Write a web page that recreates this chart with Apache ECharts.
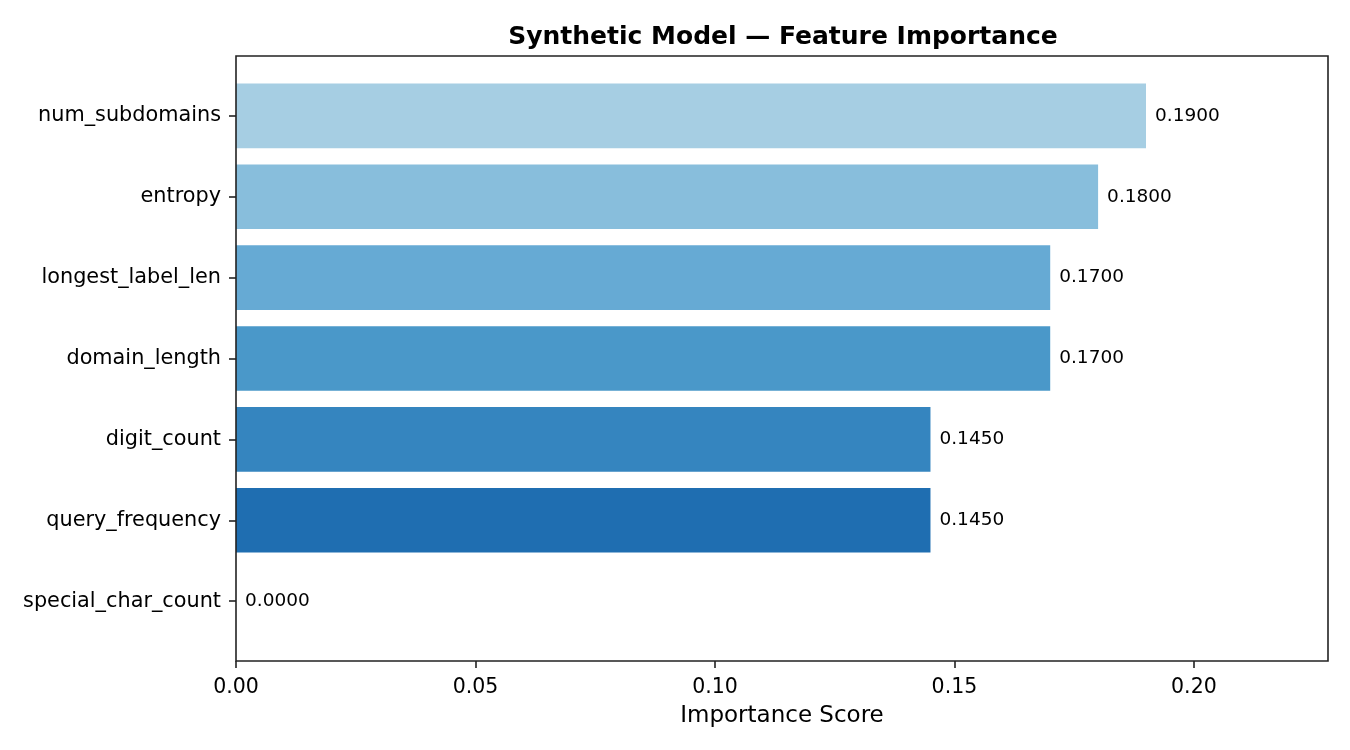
<!DOCTYPE html>
<html>
<head>
<meta charset="utf-8">
<script src="https://cdn.jsdelivr.net/npm/echarts@6/dist/echarts.min.js"></script>
<style>
  html, body { margin: 0; padding: 0; background: #ffffff; }
  #chart { width: 1350px; height: 750px; }
</style>
</head>
<body>
<div id="chart"></div>
<script>
// data, top to bottom
const features = ['num_subdomains', 'entropy', 'longest_label_len', 'domain_length', 'digit_count', 'query_frequency', 'special_char_count'];
const importance = [0.19, 0.18, 0.17, 0.17, 0.145, 0.145, 0.0];
const barColors = ['#a6cee3', '#88bedc', '#66aad4', '#4a98c9', '#3585bf', '#1f6eb1', '#0c56a0'];
const xTicks = [0, 0.05, 0.10, 0.15, 0.20];

// plot frame (matplotlib axes box)
const frame = { left: 236, top: 56, right: 1328, bottom: 661 };
// category bands are a bit inside the frame (matplotlib margins)
const band = (frame.bottom - frame.top) / (features.length + 0.48);
const gridTop = frame.top + band * 0.24;
const gridBottom = frame.bottom - band * 0.24;
const font = 'DejaVu Sans';

const chart = echarts.init(document.getElementById('chart'));
chart.setOption({
  animation: false,
  backgroundColor: '#ffffff',
  title: {
    text: 'Synthetic Model — Feature Importance',
    left: (frame.left + frame.right) / 2 - 4,
    textAlign: 'center',
    top: 20,
    textStyle: { fontFamily: font, fontWeight: 'bold', fontSize: 25, color: '#000' }
  },
  grid: {
    left: frame.left,
    right: 1350 - frame.right,
    top: gridTop,
    bottom: 750 - gridBottom,
    containLabel: false
  },
  xAxis: {
    type: 'value',
    min: 0,
    max: 0.228,
    interval: 0.05,
    offset: frame.bottom - gridBottom,
    name: 'Importance Score',
    nameLocation: 'middle',
    nameGap: 44,
    nameTextStyle: { fontFamily: font, fontSize: 23, color: '#000' },
    axisLine: { show: false },
    axisTick: { show: true, length: 7, customValues: xTicks, lineStyle: { color: '#222', width: 1.6 } },
    axisLabel: {
      customValues: xTicks,
      margin: 16,
      fontFamily: font, fontSize: 20.5, color: '#000',
      formatter: v => v.toFixed(2)
    },
    splitLine: { show: false }
  },
  yAxis: {
    type: 'category',
    data: features,
    inverse: true,
    axisLine: { show: false },
    axisTick: { show: true, length: 7, alignWithLabel: true, lineStyle: { color: '#222', width: 1.6 } },
    axisLabel: { margin: 15, fontFamily: font, fontSize: 20.8, color: '#000', padding: [7, 0, 0, 0] }
  },
  graphic: [{
    type: 'rect',
    silent: true,
    z: 100,
    shape: { x: frame.left, y: frame.top, width: frame.right - frame.left, height: frame.bottom - frame.top },
    style: { fill: null, stroke: '#222', lineWidth: 1.6 }
  }],
  series: [{
    type: 'bar',
    barWidth: '80%',
    data: importance.map((v, i) => ({ value: v, itemStyle: { color: barColors[i] } })),
    label: {
      show: true,
      position: 'right',
      distance: 9,
      fontFamily: font,
      fontSize: 18.5,
      color: '#000',
      formatter: p => p.value.toFixed(4)
    }
  }]
});
</script>
</body>
</html>
